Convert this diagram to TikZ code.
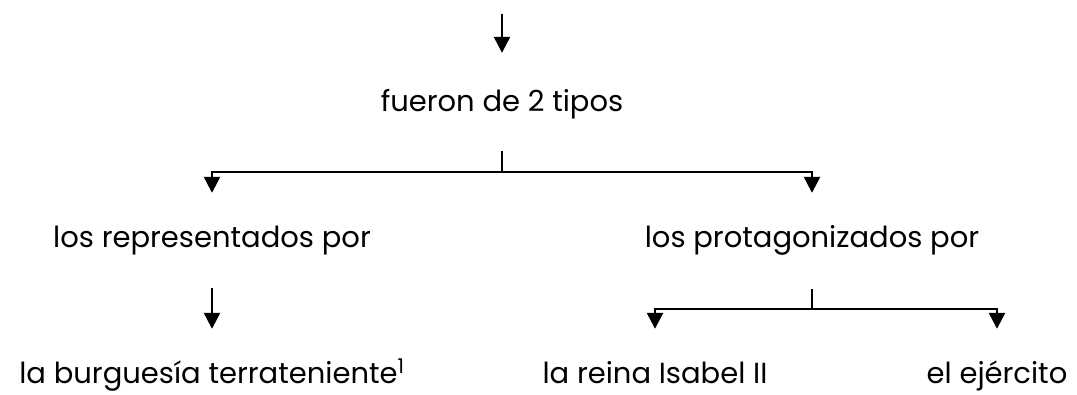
\documentclass[tikz,border=0pt]{standalone}
\usepackage{fontspec}
\setmainfont{Poppins}
\usetikzlibrary{arrows.meta}
\begin{document}
\begin{tikzpicture}[x=1pt,y=-1pt,
  lbl/.style={anchor=base,inner sep=0pt,text height=21pt,text depth=6pt,font=\fontsize{29}{33}\selectfont},
  conn/.style={line width=2.5pt},
  arr/.style={conn,-{Triangle[width=16pt,length=16pt]},shorten >=33pt},
]
\useasboundingbox[fill=white] (0,0) rectangle (1077,394);
% nodes
\node[lbl] (fueron) at (502,111) {fueron de 2 tipos};
\node[lbl] (rep) at (212,247) {los representados por};
\node[lbl] (prot) at (812,247) {los protagonizados por};
\node[lbl] (burg) at (212,383) {la burguesía terrateniente\textsuperscript{1}};
\node[lbl] (reina) at (655,383) {la reina Isabel II};
\node[lbl] (ejer) at (997,383) {el ejército};
% free start and branch points
\coordinate (top) at (502,14);
\coordinate (f1) at (502,172);
\coordinate (f2) at (812,309);
% connectors
\draw[arr,shorten >=37pt] (top) -- (fueron.north);
\draw[conn,shorten <=34pt] (fueron.south) -- (f1);
\draw[arr] (f1) -| (rep.north);
\draw[arr] (f1) -| (prot.north);
\draw[arr,shorten <=35pt] (rep.south) -- (burg.north);
\draw[conn,shorten <=36pt] (prot.south) -- (f2);
\draw[arr] (f2) -| (reina.north);
\draw[arr] (f2) -| (ejer.north);
\end{tikzpicture}
\end{document}
